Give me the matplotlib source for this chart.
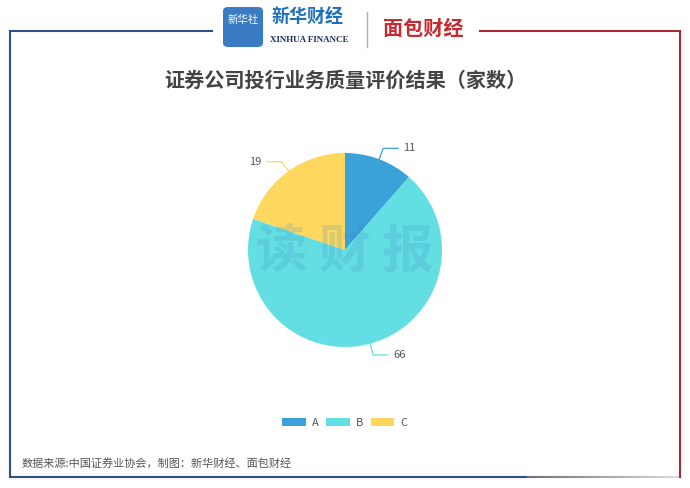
import numpy as np
import matplotlib.pyplot as plt
from matplotlib.patches import FancyBboxPatch, Patch
from matplotlib.lines import Line2D

plt.rcParams['font.family'] = ['Noto Sans CJK SC', 'DejaVu Sans']

# data
categories = ["A", "B", "C"]
values = [11, 66, 19]
colors = ["#3ba1d9", "#63dee3", "#fed85e"]
title = "证券公司投行业务质量评价结果（家数）"
source = "数据来源:中国证券业协会，制图：新华财经、面包财经"

W, H = 690, 488
fig = plt.figure(figsize=(W / 100, H / 100), dpi=100)

def fx(px):
    return px / W

def fy(py):
    return 1 - py / H

# frame lines (blue left, red right)
blue = "#2f4f8a"
red = "#a52a33"
fig.add_artist(Line2D([fx(10), fx(212)], [fy(31), fy(31)], color=blue, lw=1.5))
fig.add_artist(Line2D([fx(10), fx(10)], [fy(31), fy(477)], color=blue, lw=1.5))
fig.add_artist(Line2D([fx(10), fx(528)], [fy(477), fy(477)], color=blue, lw=1.5))
grad = np.linspace(0, 1, 30)
xs = np.linspace(528, 680, 31)
for i in range(30):
    c = 0.45 + 0.4 * grad[i]
    fig.add_artist(Line2D([fx(xs[i]), fx(xs[i + 1])], [fy(477), fy(477)],
                          color=(c, c, c + 0.05), lw=1.5))
fig.add_artist(Line2D([fx(480), fx(680)], [fy(31), fy(31)], color=red, lw=1.5))
fig.add_artist(Line2D([fx(680), fx(680)], [fy(31), fy(477)], color=red, lw=1.5))

# header logos (text approximations)
fig.add_artist(FancyBboxPatch((fx(223), fy(47)), fx(40), 40 / H,
                              boxstyle="round,pad=0,rounding_size=0.008",
                              fc="#3a7cc4", ec="none"))
fig.text(fx(243), fy(20), "新华社", color="white", fontsize=7.5, ha="center", va="center")
fig.text(fx(308), fy(17), "新华财经", color="#1f6fbf", fontsize=13, ha="center",
         va="center", fontweight="bold", style="italic")
fig.text(fx(309), fy(40), "XINHUA FINANCE", color="#1e2f5e", fontsize=6.5,
         ha="center", va="center", family="Liberation Serif", fontweight="bold")
fig.add_artist(Line2D([fx(367), fx(367)], [fy(12), fy(47)], color="#d9a0a0", lw=1))
fig.text(fx(423), fy(28), "面包财经", color="#c8282f", fontsize=14.5, ha="center",
         va="center", fontweight="bold")

# title
fig.text(fx(345), fy(80), title, fontsize=14.5, fontweight="bold", color="#444444",
         ha="center", va="center")

# pie
ax = fig.add_axes([fx(195), fy(400), fx(300), 300 / H])
r = 0.97
wedges, _ = ax.pie(values, colors=colors, startangle=90, counterclock=False,
                   radius=r, wedgeprops=dict(linewidth=0))
ax.set_xlim(-1.5, 1.5)
ax.set_ylim(-1.5, 1.5)
ax.set_aspect("equal")
ax.axis("off")

for w, v, c in zip(wedges, values, colors):
    ang = np.deg2rad((w.theta1 + w.theta2) / 2)
    x0, y0 = r * np.cos(ang), r * np.sin(ang)
    x1, y1 = 1.12 * r * np.cos(ang), 1.12 * r * np.sin(ang)
    sgn = 1 if x1 >= 0 else -1
    x2 = x1 + sgn * 0.15
    ax.plot([x0, x1, x2], [y0, y1, y1], color=c, lw=0.9, clip_on=False)
    ax.text(x2 + sgn * 0.05, y1, str(v), fontsize=8, color="#555555",
            ha="left" if sgn > 0 else "right", va="center")

# watermark
ax.text(0, -0.02, "读 财 报", fontsize=37, fontweight="heavy", color="#3f8cc2",
        alpha=0.2, ha="center", va="center")

# legend
handles = [Patch(facecolor=c, edgecolor="none") for c in colors]
fig.legend(handles, categories, loc="center", bbox_to_anchor=(fx(345), fy(423)),
           ncol=3, frameon=False, fontsize=8, handlelength=2.1, handleheight=0.8,
           handletextpad=0.6, columnspacing=0.65, labelcolor="#555555")

# footer
fig.text(fx(22), fy(463), source, fontsize=8, color="#555555", ha="left", va="center")

fig.savefig("out.png", dpi=100)
